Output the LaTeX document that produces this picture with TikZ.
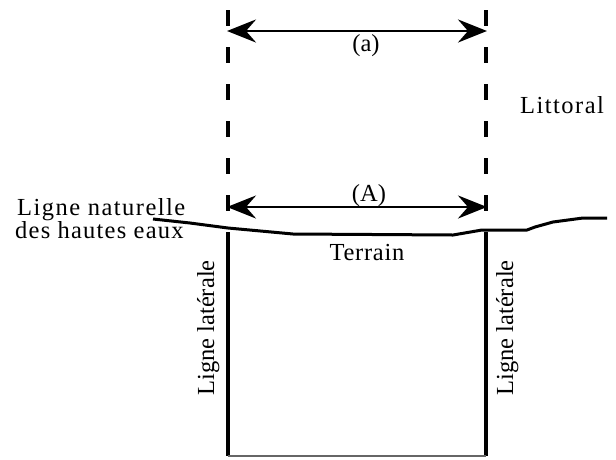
\documentclass[tikz,border=0pt]{standalone}
\usepackage{fontspec}
\setmainfont{Liberation Serif}
\usetikzlibrary{arrows.meta}
\tikzset{
  lbl/.style={inner sep=0pt, font=\fontsize{24.5}{22}\selectfont},
  dashline/.style={line width=3.5pt, dash pattern=on 16pt off 21pt},
  dimarrow/.style={line width=2.8pt, {Stealth[length=29pt,width=23pt,inset=10pt]}-{Stealth[length=29pt,width=23pt,inset=10pt]}, shorten <=-1pt, shorten >=-1pt},
  groundline/.style={line width=3pt, line join=round},
  sideline/.style={line width=3.5pt},
  baseline/.style={line width=1.2pt, draw=black!60}
}
\begin{document}
\begin{tikzpicture}[x=1pt,y=-1pt]
\useasboundingbox (0,0) rectangle (616,459);
% coordinates
\coordinate (dLt) at (228,10);
\coordinate (dLb) at (228,235);
\coordinate (dRt) at (486,10);
\coordinate (dRb) at (486,235);
\coordinate (aL) at (228,31);
\coordinate (aR) at (486,31);
\coordinate (AL) at (228,207);
\coordinate (AR) at (486,207);
\coordinate (sLt) at (228,233);
\coordinate (sLb) at (228,456);
\coordinate (sRt) at (486,233);
\coordinate (sRb) at (486,456);
% dashed limits
\draw[dashline] (dLt) -- (dLb);
\draw[dashline] (dRt) -- (dRb);
% dimension arrows
\draw[dimarrow] (aL) -- (aR);
\draw[dimarrow] (AL) -- (AR);
% natural high-water line
\draw[groundline] (153,219) -- (190,223) -- (228,228) -- (293,234) -- (453,235)
  -- (482,230) -- (527,230) -- (535,227) -- (553,222) -- (583,218) -- (607,218);
% lateral lines and bottom
\draw[sideline] (sLt) -- (sLb);
\draw[sideline] (sRt) -- (sRb);
\draw[baseline] (sLb) -- (sRb);
% labels
\node[lbl, anchor=base] (la) at (366,51) {(a)};
\node[lbl, anchor=base] (lA) at (369,201) {(A)};
\node[lbl, anchor=base] (terrain) at (367,260) {\addfontfeature{LetterSpace=3}Terrain};
\node[lbl, anchor=base west] (littoral) at (520,113) {\addfontfeature{LetterSpace=6}Littoral};
\node[lbl, anchor=base west] (nat1) at (17,215) {\addfontfeature{LetterSpace=6}Ligne naturelle};
\node[lbl, anchor=base west] (nat2) at (15,238) {\addfontfeature{LetterSpace=5}des hautes eaux};
\node[lbl, anchor=base, rotate=90] (latL) at (214,328) {Ligne latérale};
\node[lbl, anchor=base, rotate=90] (latR) at (513,328) {Ligne latérale};
\end{tikzpicture}
\end{document}
